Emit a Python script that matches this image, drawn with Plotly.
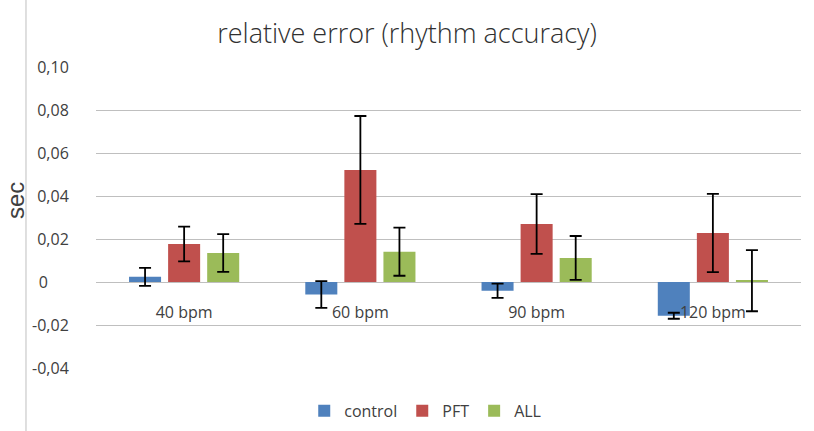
import plotly.graph_objects as go

# rhythm accuracy, relative error in seconds
categories = ["40 bpm", "60 bpm", "90 bpm", "120 bpm"]

control = [0.0024, -0.0058, -0.0041, -0.0157]
control_err = [0.0042, 0.0062, 0.0033, 0.0014]

pft = [0.0177, 0.0521, 0.0270, 0.0228]
pft_err = [0.0081, 0.0251, 0.0139, 0.0182]

all_group = [0.0135, 0.0141, 0.0112, 0.0006]
all_err = [0.0088, 0.0112, 0.0102, 0.0142]

y_ticks = [0.10, 0.08, 0.06, 0.04, 0.02, 0, -0.02, -0.04]
y_ticktext = ["0,10", "0,08", "0,06", "0,04", "0,02", "0", "-0,02", "-0,04"]

series = [
    ("control", control, control_err, "#4F81BD"),
    ("PFT", pft, pft_err, "#C0504D"),
    ("ALL", all_group, all_err, "#9BBB59"),
]

fig = go.Figure()
for name, vals, errs, color in series:
    fig.add_trace(go.Bar(
        name=name,
        x=categories,
        y=vals,
        marker=dict(color=color, line=dict(width=0)),
        error_y=dict(type="data", array=errs, visible=True,
                     color="black", thickness=1.8, width=6),
    ))

# pad the bare "0" like Excel does so it sits left with the others
ticktext = [t + "\u00a0" * 5 if t == "0" else t for t in y_ticktext]

label_font = "Open Sans, sans-serif"
y_min, y_max = -0.04, 0.10
fig.update_layout(
    width=814,
    height=431,
    paper_bgcolor="white",
    plot_bgcolor="white",
    margin=dict(l=96, r=13, t=67, b=63, autoexpand=False),
    barmode="group",
    bargap=0.335,
    bargroupgap=0.18,
    font=dict(family=label_font, size=16, color="#404040"),
    title=dict(
        text="relative error (rhythm accuracy)",
        x=0.5, xref="container", xanchor="center",
        y=0.923, yanchor="middle",
        font=dict(family=label_font, size=27, color="#303030", weight=300),
    ),
    xaxis=dict(
        automargin=False,
        anchor="free",
        position=(0 - y_min) / (y_max - y_min),
        showgrid=False,
        showline=False,
        ticks="outside",
        ticklen=16,
        tickcolor="rgba(0,0,0,0)",
        tickfont=dict(family=label_font, size=16, color="#404040"),
    ),
    yaxis=dict(
        automargin=False,
        range=[y_min, y_max],
        tickvals=y_ticks,
        ticktext=ticktext,
        showgrid=True,
        gridcolor="#BFBFBF",
        gridwidth=1,
        zeroline=True,
        zerolinecolor="#BFBFBF",
        zerolinewidth=1,
        showline=False,
        ticks="outside",
        ticklen=23,
        tickcolor="rgba(0,0,0,0)",
        tickfont=dict(family=label_font, size=16, color="#404040"),
    ),
    legend=dict(
        orientation="h",
        x=0.467, xanchor="center",
        y=-0.086, yanchor="top",
        font=dict(family=label_font, size=16, color="#404040"),
        itemwidth=30,
        traceorder="normal",
    ),
    annotations=[
        dict(text="sec", xref="paper", yref="paper", x=-0.1149, y=0.558,
             textangle=-90, showarrow=False, xanchor="center", yanchor="middle",
             font=dict(family="Liberation Sans, Arial, sans-serif", size=24, color="#404040")),
    ],
    shapes=[
        dict(type="line", xref="paper", yref="paper",
             x0=-0.0993, x1=-0.0993, y0=-0.21, y1=1.23,
             line=dict(color="#BFBFBF", width=1)),
    ],
)

# drop the browser's default body margin so the figure sits at the window corner
fig.write_html("out.html", config={"displayModeBar": False},
               post_script="document.body.style.margin = '0';")
